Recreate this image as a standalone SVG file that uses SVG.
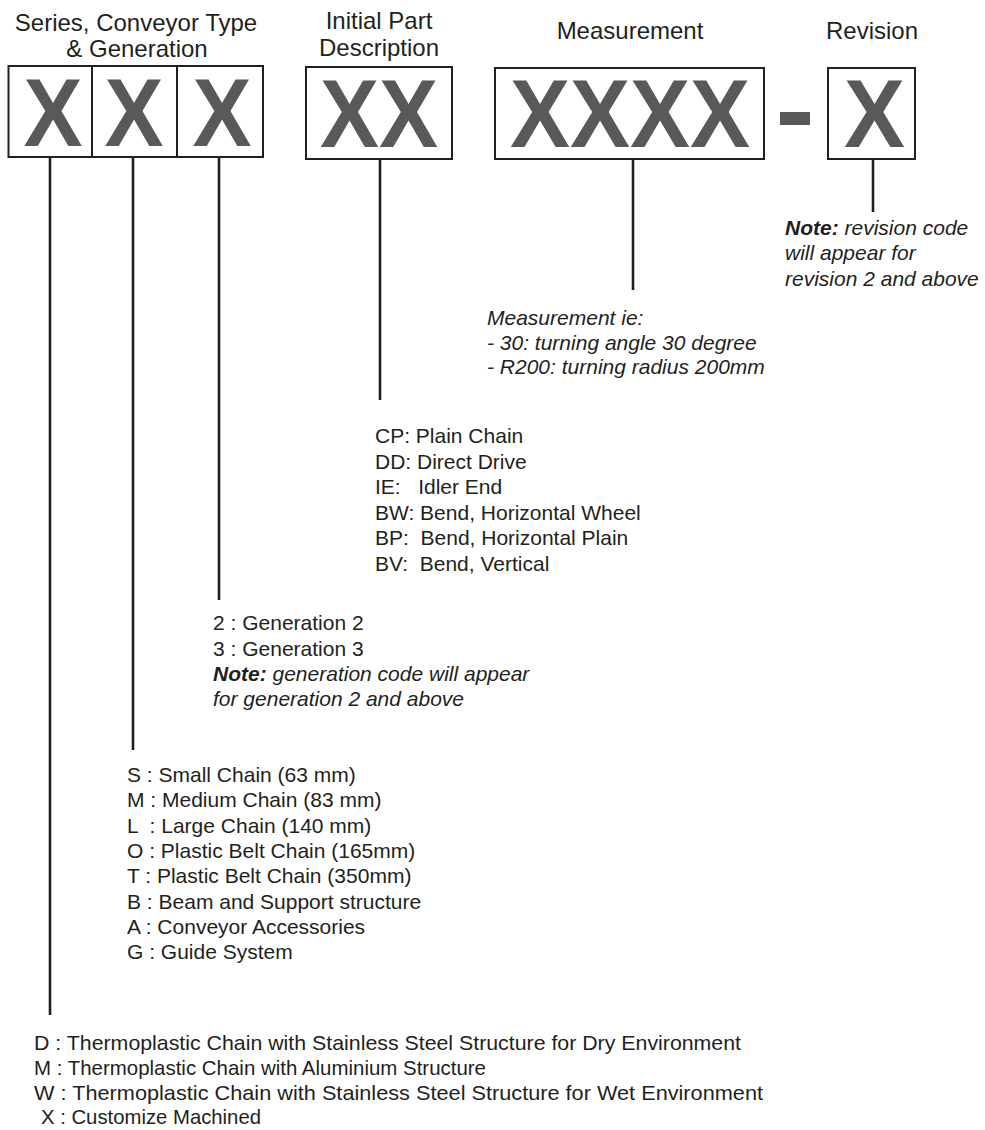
<svg xmlns="http://www.w3.org/2000/svg" width="985" height="1130" viewBox="0 0 985 1130">
<style>
.hdr{font-family:"Liberation Sans",Arial,sans-serif;font-size:24px;fill:#231f20;text-anchor:middle}
.t{font-family:"Liberation Sans",Arial,sans-serif;font-size:21px;fill:#231f20}
.i{font-style:italic}
.b{font-weight:bold}
.n{font-family:"Liberation Sans",Arial,sans-serif;font-size:21px;fill:#231f20}
.box{fill:#fff;stroke:#231f20;stroke-width:2}
.big{font-family:"Liberation Sans",Arial,sans-serif;font-weight:bold;font-size:97px;fill:#58595b}
.ln{stroke:#231f20;stroke-width:2.6;fill:none}
.div{stroke:#231f20;stroke-width:2;fill:none}
</style>
<rect width="985" height="1130" fill="#fff"/>

<g id="node-series">
<text class="hdr" x="136" y="31">Series, Conveyor Type</text>
<text class="hdr" x="137" y="57">&amp; Generation</text>
<rect class="box" x="8.5" y="66" width="254.5" height="91"/>
<line class="div" x1="92" y1="66" x2="92" y2="157"/>
<line class="div" x1="177" y1="66" x2="177" y2="157"/>
<text class="big" x="23.5" y="146" textLength="59" lengthAdjust="spacingAndGlyphs">X</text>
<text class="big" x="104.5" y="146" textLength="59" lengthAdjust="spacingAndGlyphs">X</text>
<text class="big" x="192.5" y="146" textLength="59" lengthAdjust="spacingAndGlyphs">X</text>
</g>

<g id="node-initial">
<text class="hdr" x="379" y="29">Initial Part</text>
<text class="hdr" x="379" y="56">Description</text>
<rect class="box" x="306" y="67" width="146" height="92"/>
<text class="big" x="320" y="147" textLength="118" lengthAdjust="spacingAndGlyphs">XX</text>
</g>

<g id="node-measurement">
<text class="hdr" x="630" y="39">Measurement</text>
<rect class="box" x="495" y="68" width="269" height="91"/>
<text class="big" x="510" y="147" textLength="240" lengthAdjust="spacingAndGlyphs">XXXX</text>
</g>

<g id="node-dash">
<rect x="780" y="112" width="30" height="13" fill="#58595b"/>
</g>

<g id="node-revision">
<text class="hdr" x="872" y="39">Revision</text>
<rect class="box" x="828" y="68" width="87" height="91"/>
<text class="big" x="844" y="147" textLength="61" lengthAdjust="spacingAndGlyphs">X</text>
</g>

<g id="connectors">
<line class="ln" x1="50" y1="158" x2="50" y2="1015"/>
<line class="ln" x1="133" y1="158" x2="133" y2="750"/>
<line class="ln" x1="219" y1="158" x2="219" y2="600"/>
<line class="ln" x1="380" y1="160" x2="380" y2="400"/>
<line class="ln" x1="633" y1="160" x2="633" y2="290"/>
<line class="ln" x1="873" y1="160" x2="873" y2="212"/>
</g>

<g id="node-revision-note">
<text class="t" x="785" y="235"><tspan class="b i">Note:</tspan><tspan class="i"> revision code</tspan></text>
<text class="t i" x="785" y="260">will appear for</text>
<text class="t i" x="785" y="286">revision 2 and above</text>
</g>

<g id="node-measurement-note">
<text class="t i" x="487" y="325">Measurement ie:</text>
<text class="t i" x="487" y="350">- 30: turning angle 30 degree</text>
<text class="t i" x="487" y="374">- R200: turning radius 200mm</text>
</g>

<g id="node-part-list">
<text class="t" x="375" y="443">CP: Plain Chain</text>
<text class="t" x="375" y="469">DD: Direct Drive</text>
<text class="t" x="375" y="494" xml:space="preserve">IE:   Idler End</text>
<text class="t" x="375" y="520">BW: Bend, Horizontal Wheel</text>
<text class="t" x="375" y="545" xml:space="preserve">BP:  Bend, Horizontal Plain</text>
<text class="t" x="375" y="571" xml:space="preserve">BV:  Bend, Vertical</text>
</g>

<g id="node-generation-list">
<text class="t" x="213" y="630">2 : Generation 2</text>
<text class="t" x="213" y="656">3 : Generation 3</text>
<text class="t" x="213" y="681"><tspan class="b i">Note:</tspan><tspan class="i"> generation code will appear</tspan></text>
<text class="t i" x="213" y="706">for generation 2 and above</text>
</g>

<g id="node-type-list">
<text class="t" x="127" y="782">S : Small Chain (63 mm)</text>
<text class="t" x="127" y="807">M : Medium Chain (83 mm)</text>
<text class="t" x="127" y="833" xml:space="preserve">L  : Large Chain (140 mm)</text>
<text class="t" x="127" y="858">O : Plastic Belt Chain (165mm)</text>
<text class="t" x="127" y="883">T : Plastic Belt Chain (350mm)</text>
<text class="t" x="127" y="909">B : Beam and Support structure</text>
<text class="t" x="127" y="934">A : Conveyor Accessories</text>
<text class="t" x="127" y="959">G : Guide System</text>
</g>

<g id="node-series-list">
<text class="n" x="34" y="1050" textLength="707" lengthAdjust="spacingAndGlyphs">D : Thermoplastic Chain with Stainless Steel Structure for Dry Environment</text>
<text class="n" x="34" y="1075" textLength="452" lengthAdjust="spacingAndGlyphs">M : Thermoplastic Chain with Aluminium Structure</text>
<text class="n" x="34" y="1100" textLength="729" lengthAdjust="spacingAndGlyphs">W : Thermoplastic Chain with Stainless Steel Structure for Wet Environment</text>
<text class="n" x="41" y="1124" textLength="220" lengthAdjust="spacingAndGlyphs">X : Customize Machined</text>
</g>
</svg>
